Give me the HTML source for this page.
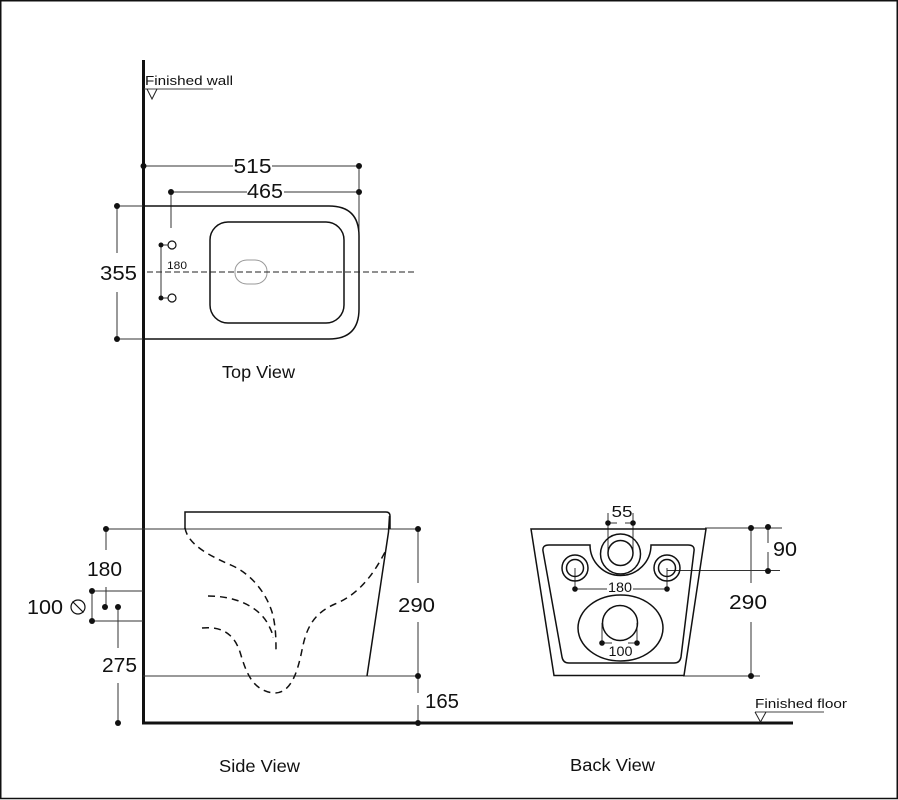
<!DOCTYPE html>
<html><head><meta charset="utf-8">
<style>
html,body{margin:0;padding:0;background:#fff;}
svg{display:block;}
text{font-family:"Liberation Sans",Arial,sans-serif;fill:#111;}
</style></head>
<body>
<svg width="898" height="800" viewBox="0 0 898 800" xmlns="http://www.w3.org/2000/svg">
<rect x="0.75" y="0.75" width="896.5" height="797.75" fill="#fff" stroke="#111" stroke-width="1.5"/>

<!-- Wall and floor -->
<line x1="143.5" y1="60" x2="143.5" y2="724.5" stroke="#111" stroke-width="3"/>
<line x1="142" y1="723" x2="793" y2="723" stroke="#111" stroke-width="3"/>

<!-- Finished wall label -->
<text x="145" y="85" font-size="12.5" textLength="88" lengthAdjust="spacingAndGlyphs">Finished wall</text>
<line x1="144" y1="89" x2="213" y2="89" stroke="#444" stroke-width="1"/>
<polyline points="147,89 152,99 157,89" fill="none" stroke="#222" stroke-width="1"/>

<!-- Finished floor label -->
<text x="755" y="708" font-size="12.5" textLength="92" lengthAdjust="spacingAndGlyphs">Finished floor</text>
<line x1="755" y1="712" x2="824" y2="712" stroke="#444" stroke-width="1"/>
<polyline points="755,712 760.5,722 766,712" fill="none" stroke="#222" stroke-width="1"/>

<!-- ===== TOP VIEW ===== -->
<g stroke="#333" stroke-width="1" fill="none">
  <line x1="143" y1="166" x2="233" y2="166"/>
  <line x1="272" y1="166" x2="359" y2="166"/>
  <line x1="171" y1="192" x2="247" y2="192"/>
  <line x1="284" y1="192" x2="359" y2="192"/>
  <line x1="359" y1="166" x2="359" y2="236"/>
  <line x1="171" y1="192" x2="171" y2="228"/>
  <line x1="117" y1="206" x2="143" y2="206"/>
  <line x1="117" y1="339" x2="143" y2="339"/>
  <line x1="117" y1="206" x2="117" y2="253"/>
  <line x1="117" y1="292" x2="117" y2="339"/>
  <line x1="161" y1="245" x2="161" y2="298"/>
  <line x1="161" y1="245" x2="168" y2="245"/>
  <line x1="161" y1="298" x2="168" y2="298"/>
</g>
<g fill="#111">
  <circle cx="143.5" cy="166" r="3"/>
  <circle cx="359" cy="166" r="3"/>
  <circle cx="171" cy="192" r="3"/>
  <circle cx="359" cy="192" r="3"/>
  <circle cx="117" cy="206" r="3"/>
  <circle cx="117" cy="339" r="3"/>
  <circle cx="161" cy="245" r="2.5"/>
  <circle cx="161" cy="298" r="2.5"/>
</g>
<circle cx="172" cy="245" r="4" fill="#fff" stroke="#111" stroke-width="1.2"/>
<circle cx="172" cy="298" r="4" fill="#fff" stroke="#111" stroke-width="1.2"/>
<path d="M143,206 L329,206 Q359,206 359,236 L359,309 Q359,339 329,339 L143,339" fill="none" stroke="#111" stroke-width="1.5"/>
<rect x="210" y="222" width="134" height="101" rx="18" ry="18" fill="none" stroke="#111" stroke-width="1.5"/>
<rect x="235" y="260" width="32" height="24" rx="12" ry="11" fill="none" stroke="#999" stroke-width="1"/>
<line x1="147" y1="272" x2="417" y2="272" stroke="#222" stroke-width="1" stroke-dasharray="6,3"/>
<text x="252.5" y="173" font-size="20" text-anchor="middle" textLength="38" lengthAdjust="spacingAndGlyphs">515</text>
<text x="265" y="198" font-size="20" text-anchor="middle" textLength="36" lengthAdjust="spacingAndGlyphs">465</text>
<text x="118.5" y="280" font-size="20" text-anchor="middle" textLength="37" lengthAdjust="spacingAndGlyphs">355</text>
<text x="167" y="269" font-size="11" textLength="20" lengthAdjust="spacingAndGlyphs">180</text>
<text x="222" y="378" font-size="17.5" textLength="73" lengthAdjust="spacingAndGlyphs">Top View</text>

<!-- ===== SIDE VIEW ===== -->
<g stroke="#333" stroke-width="1" fill="none">
  <line x1="106" y1="529" x2="418" y2="529"/>
  <line x1="106" y1="529" x2="106" y2="550"/>
  <line x1="106" y1="587" x2="106" y2="607"/>
  <line x1="92" y1="591" x2="143" y2="591"/>
  <line x1="92" y1="621" x2="143" y2="621"/>
  <line x1="92" y1="591" x2="92" y2="621"/>
  <line x1="118" y1="607" x2="118" y2="648"/>
  <line x1="118" y1="683" x2="118" y2="723"/>
  <line x1="143" y1="676" x2="418" y2="676"/>
  <line x1="418" y1="529" x2="418" y2="583"/>
  <line x1="418" y1="622" x2="418" y2="693"/>
  <line x1="418" y1="705" x2="418" y2="723"/>
</g>
<g fill="#111">
  <circle cx="106" cy="529" r="3"/>
  <circle cx="418" cy="529" r="3"/>
  <circle cx="92" cy="591" r="3"/>
  <circle cx="92" cy="621" r="3"/>
  <circle cx="105" cy="607" r="3"/>
  <circle cx="118" cy="607" r="3"/>
  <circle cx="118" cy="723" r="3"/>
  <circle cx="418" cy="676" r="3"/>
  <circle cx="418" cy="723" r="3"/>
</g>
<circle cx="78" cy="607" r="7" fill="none" stroke="#111" stroke-width="1.2"/>
<line x1="72.5" y1="601.5" x2="83.5" y2="612.5" stroke="#111" stroke-width="1.2"/>
<path d="M185,529 L185,512 L386,512 Q390,512 390,516 L390,529" fill="none" stroke="#111" stroke-width="1.5"/>
<path d="M389.5,516 L388.5,532 L367,676" fill="none" stroke="#111" stroke-width="1.5"/>
<g fill="none" stroke="#111" stroke-width="1.5" stroke-dasharray="7,5">
  <path d="M185,528 C188,545 210,556 233,566 C252,575 266,593 272,612 C276,626 276,640 276,653"/>
  <path d="M208,596 C235,596 258,606 268,624 C271,630 273,634 273,638"/>
  <path d="M202,628 C222,626 234,634 240,652 C246,672 252,690 273,693 C290,694 297,675 302,650 C306,630 312,614 335,604 C360,594 375,572 386,550"/>
</g>
<text x="104.5" y="576" font-size="20" text-anchor="middle" textLength="35" lengthAdjust="spacingAndGlyphs">180</text>
<text x="45" y="614" font-size="20" text-anchor="middle" textLength="36" lengthAdjust="spacingAndGlyphs">100</text>
<text x="119.5" y="672" font-size="20" text-anchor="middle" textLength="35" lengthAdjust="spacingAndGlyphs">275</text>
<text x="416.5" y="612" font-size="20" text-anchor="middle" textLength="37" lengthAdjust="spacingAndGlyphs">290</text>
<text x="442" y="708" font-size="20" text-anchor="middle" textLength="34" lengthAdjust="spacingAndGlyphs">165</text>
<text x="219" y="772" font-size="17.5" textLength="81" lengthAdjust="spacingAndGlyphs">Side View</text>

<!-- ===== BACK VIEW ===== -->
<g stroke="#333" stroke-width="1" fill="none">
  <line x1="705" y1="528" x2="782" y2="528"/>
  <line x1="667" y1="570.5" x2="780" y2="570.5"/>
  <line x1="683" y1="676" x2="760" y2="676"/>
  <line x1="751" y1="528" x2="751" y2="583"/>
  <line x1="751" y1="622" x2="751" y2="676"/>
  <line x1="768" y1="527" x2="768" y2="543"/>
  <line x1="768" y1="552" x2="768" y2="571"/>
  <line x1="608" y1="513" x2="608" y2="553"/>
  <line x1="633" y1="513" x2="633" y2="553"/>
  <line x1="608" y1="523" x2="617" y2="523"/>
  <line x1="625" y1="523" x2="633" y2="523"/>
  <line x1="575" y1="589" x2="607" y2="589"/>
  <line x1="633" y1="589" x2="667" y2="589"/>
  <line x1="575" y1="568" x2="575" y2="589"/>
  <line x1="667" y1="568" x2="667" y2="589"/>
  <line x1="602" y1="623" x2="602" y2="643"/>
  <line x1="637" y1="623" x2="637" y2="643"/>
  <line x1="602" y1="643" x2="612" y2="643"/>
  <line x1="628" y1="643" x2="637" y2="643"/>
</g>
<path d="M531,529 L706,529 L684,675.5 L554,675.5 Z" fill="none" stroke="#111" stroke-width="1.5"/>
<path d="M549,545 L590,545 A30.5,30.5 0 0 0 651,545 L688,545 Q695,545 694,551 L681,657 Q680,663 674,663 L569,663 Q563,663 562,657 L543,551 Q542,545 549,545 Z" fill="none" stroke="#111" stroke-width="1.5"/>
<circle cx="620.5" cy="554" r="20" fill="none" stroke="#111" stroke-width="1.5"/>
<circle cx="620.5" cy="553" r="12.5" fill="none" stroke="#111" stroke-width="1.5"/>
<circle cx="575" cy="568" r="13" fill="none" stroke="#111" stroke-width="1.5"/>
<circle cx="575" cy="568" r="8.5" fill="none" stroke="#111" stroke-width="1.5"/>
<circle cx="667" cy="568" r="13" fill="none" stroke="#111" stroke-width="1.5"/>
<circle cx="667" cy="568" r="8.5" fill="none" stroke="#111" stroke-width="1.5"/>
<ellipse cx="620.5" cy="628" rx="42.5" ry="33" fill="none" stroke="#111" stroke-width="1.5"/>
<circle cx="620" cy="623" r="17.5" fill="none" stroke="#111" stroke-width="1.5"/>
<g fill="#111">
  <circle cx="608" cy="523" r="2.8"/>
  <circle cx="633" cy="523" r="2.8"/>
  <circle cx="575" cy="589" r="2.8"/>
  <circle cx="667" cy="589" r="2.8"/>
  <circle cx="602" cy="643" r="2.8"/>
  <circle cx="637" cy="643" r="2.8"/>
  <circle cx="751" cy="528" r="3"/>
  <circle cx="768" cy="527" r="3"/>
  <circle cx="768" cy="571" r="3"/>
  <circle cx="751" cy="676" r="3"/>
</g>
<text x="622" y="517" font-size="16" text-anchor="middle" textLength="21" lengthAdjust="spacingAndGlyphs">55</text>
<text x="620" y="592" font-size="14" text-anchor="middle" textLength="24" lengthAdjust="spacingAndGlyphs">180</text>
<text x="620.5" y="656" font-size="14" text-anchor="middle" textLength="24" lengthAdjust="spacingAndGlyphs">100</text>
<text x="785" y="556" font-size="20" text-anchor="middle" textLength="24" lengthAdjust="spacingAndGlyphs">90</text>
<text x="748" y="609" font-size="20" text-anchor="middle" textLength="38" lengthAdjust="spacingAndGlyphs">290</text>
<text x="570" y="771" font-size="17.5" textLength="85" lengthAdjust="spacingAndGlyphs">Back View</text>
</svg>
</body></html>
